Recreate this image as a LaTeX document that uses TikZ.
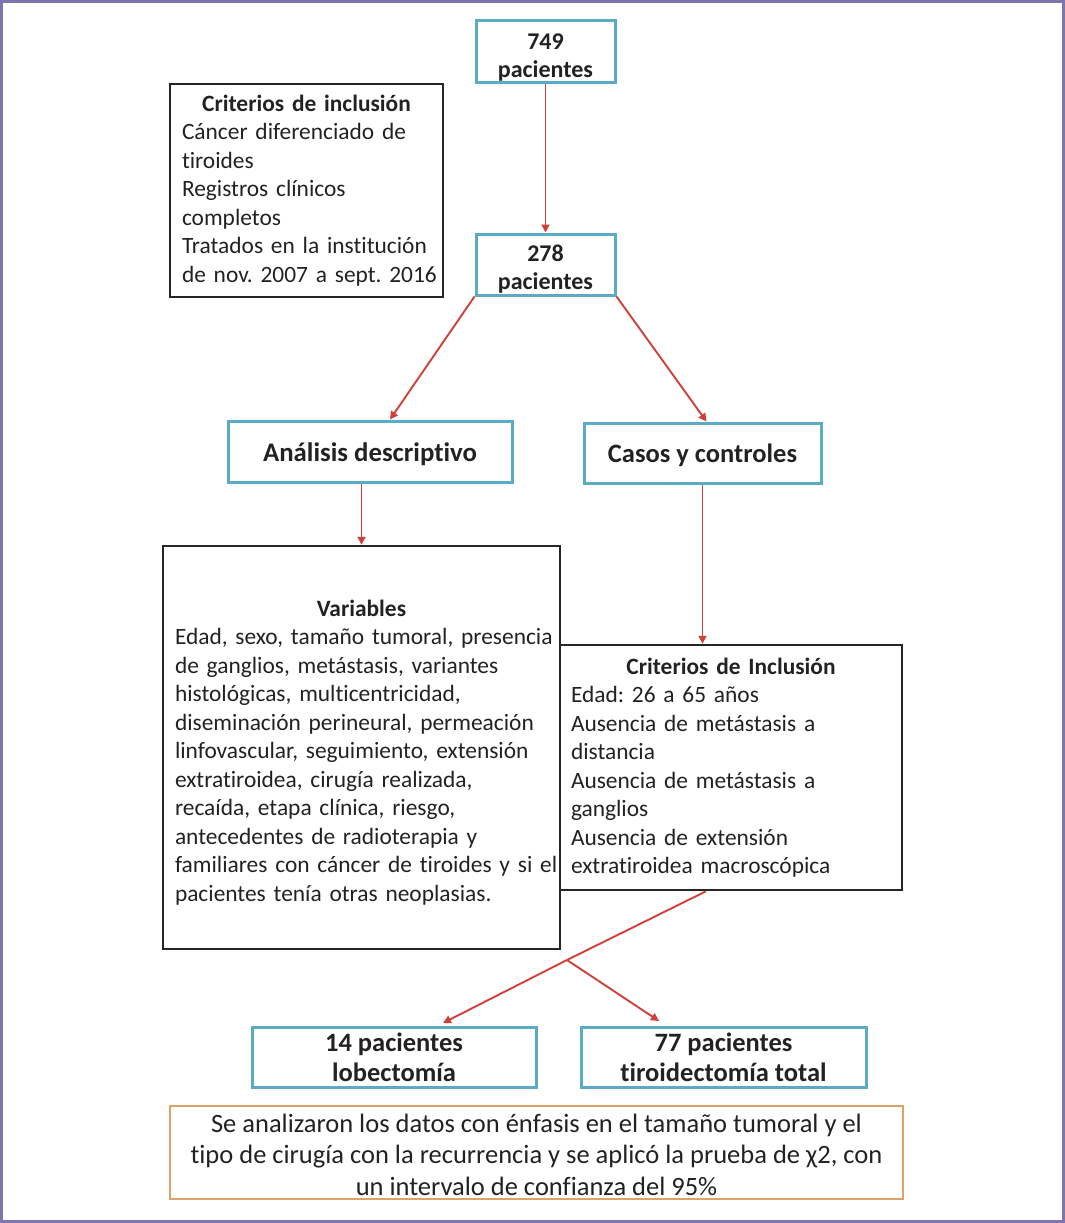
\documentclass[tikz,border=0pt]{standalone}
\usepackage{fontspec}
\setmainfont{Carlito}[Ligatures=NoCommon]
\usetikzlibrary{arrows.meta,calc}
\frenchspacing
\definecolor{bluebox}{HTML}{5AAAC8}
\definecolor{redline}{HTML}{D0403A}
\definecolor{frame}{HTML}{8074B0}
\definecolor{orangebox}{HTML}{DCA268}
\definecolor{txt}{HTML}{222222}
\newcommand\Lx[1]{\mbox{#1}}
\tikzset{
  bluenode/.style={draw=bluebox,line width=3pt,inner sep=0pt,align=center,text=txt,font=\bfseries\fontsize{24}{28}\selectfont},
  blacknode/.style={draw=black!85,line width=2.5pt,inner sep=0pt,align=left,text=txt,font=\fontsize{23.4}{28.5}\selectfont},
  arr/.style={draw=redline,line width=1.9pt,-{Triangle[length=8pt,width=8pt]}},
  ln/.style={draw=redline,line width=1.9pt}
}
\begin{document}
\begin{tikzpicture}[x=1pt,y=-1pt]
\useasboundingbox (0,0) rectangle (1065,1223);
\draw[frame,line width=2.5pt] (1.5,1.5) rectangle (1063.5,1221.5);

\node[bluenode,minimum width=139pt,minimum height=61pt] (n749) at (545.5,51.5) {\rule{0pt}{27pt}749\\pacientes};
\node[bluenode,minimum width=139pt,minimum height=61pt] (n278) at (545.5,264.5) {\rule{0pt}{25pt}278\\pacientes};

\node[blacknode,minimum width=273pt,minimum height=213pt,text width=249pt] (inc) at (306.5,190.5)
 {\makebox[\hsize][c]{\bfseries Criterios de inclusión}\\
  \Lx{Cáncer diferenciado de}\\
  \Lx{tiroides}\\
  \Lx{Registros clínicos}\\
  \Lx{completos}\\
  \Lx{Tratados en la institución}\\
  \Lx{de nov. 2007 a sept. 2016}};

\node[bluenode,minimum width=284pt,minimum height=61pt,font=\bfseries\fontsize{26.8}{28}\selectfont] (ana) at (370,451.5) {\rule{0pt}{24pt}Análisis descriptivo};
\node[bluenode,minimum width=237pt,minimum height=60pt,font=\bfseries\fontsize{26.5}{28}\selectfont] (cas) at (702.5,453) {\rule{0pt}{24pt}Casos y controles};

\node[blacknode,minimum width=397pt,minimum height=403pt,text width=373pt] (var) at (361.5,747.5)
 {\rule{0pt}{26pt}\makebox[\hsize][c]{\bfseries Variables}\\
  \Lx{Edad, sexo, tamaño tumoral, presencia}\\
  \Lx{de ganglios, metástasis, variantes}\\
  \Lx{histológicas, multicentricidad,}\\
  \Lx{diseminación perineural, permeación}\\
  \Lx{linfovascular, seguimiento, extensión}\\
  \Lx{extratiroidea, cirugía realizada,}\\
  \Lx{recaída, etapa clínica, riesgo,}\\
  \Lx{antecedentes de radioterapia y}\\
  \Lx{familiares con cáncer de tiroides y si el}\\
  \Lx{pacientes tenía otras neoplasias.}};

\node[blacknode,minimum width=342pt,minimum height=245pt,text width=320pt] (crit) at (731,767.5)
 {\makebox[\hsize][c]{\bfseries Criterios de Inclusión}\\
  \Lx{Edad: 26 a 65 años}\\
  \Lx{Ausencia de metástasis a}\\
  \Lx{distancia}\\
  \Lx{Ausencia de metástasis a}\\
  \Lx{ganglios}\\
  \Lx{Ausencia de extensión}\\
  \Lx{extratiroidea macroscópica}};

\node[bluenode,minimum width=284pt,minimum height=60pt,font=\bfseries\fontsize{26.5}{30}\selectfont] (lob) at (394,1057) {14 pacientes\\lobectomía};
\node[bluenode,minimum width=285pt,minimum height=60pt,font=\bfseries\fontsize{26.5}{30}\selectfont] (tot) at (723.5,1057) {77 pacientes\\tiroidectomía total};

\node[draw=orangebox,line width=2.5pt,minimum width=733pt,minimum height=93pt,inner sep=0pt,align=center,text=txt,font=\fontsize{26.5}{31.5}\selectfont] (fin) at (536.5,1152.5)
 {\rule{0pt}{23pt}Se analizaron los datos con énfasis en el tamaño tumoral y el\\
  tipo de cirugía con la recurrencia y se aplicó la prueba de χ2, con\\
  un intervalo de confianza del 95\%};

% connectors
\draw[arr] (n749.south) -- (n278.north);
\draw[arr] (n278.south west) -- ([xshift=20pt]ana.north);
\draw[arr] (n278.south east) -- ([xshift=4pt]cas.north);
\draw[arr] (ana.south -| var.north) -- (var.north);
\draw[arr] (cas.south) -- (cas.south |- crit.north);
\coordinate (j) at (567,960);
\coordinate (e1) at (443,1023);
\coordinate (e2) at (659,1021);
\draw[ln] ([xshift=-25pt]crit.south) -- (j);
\draw[arr] (j) -- (e1);
\draw[arr] (j) -- (e2);
\end{tikzpicture}
\end{document}
